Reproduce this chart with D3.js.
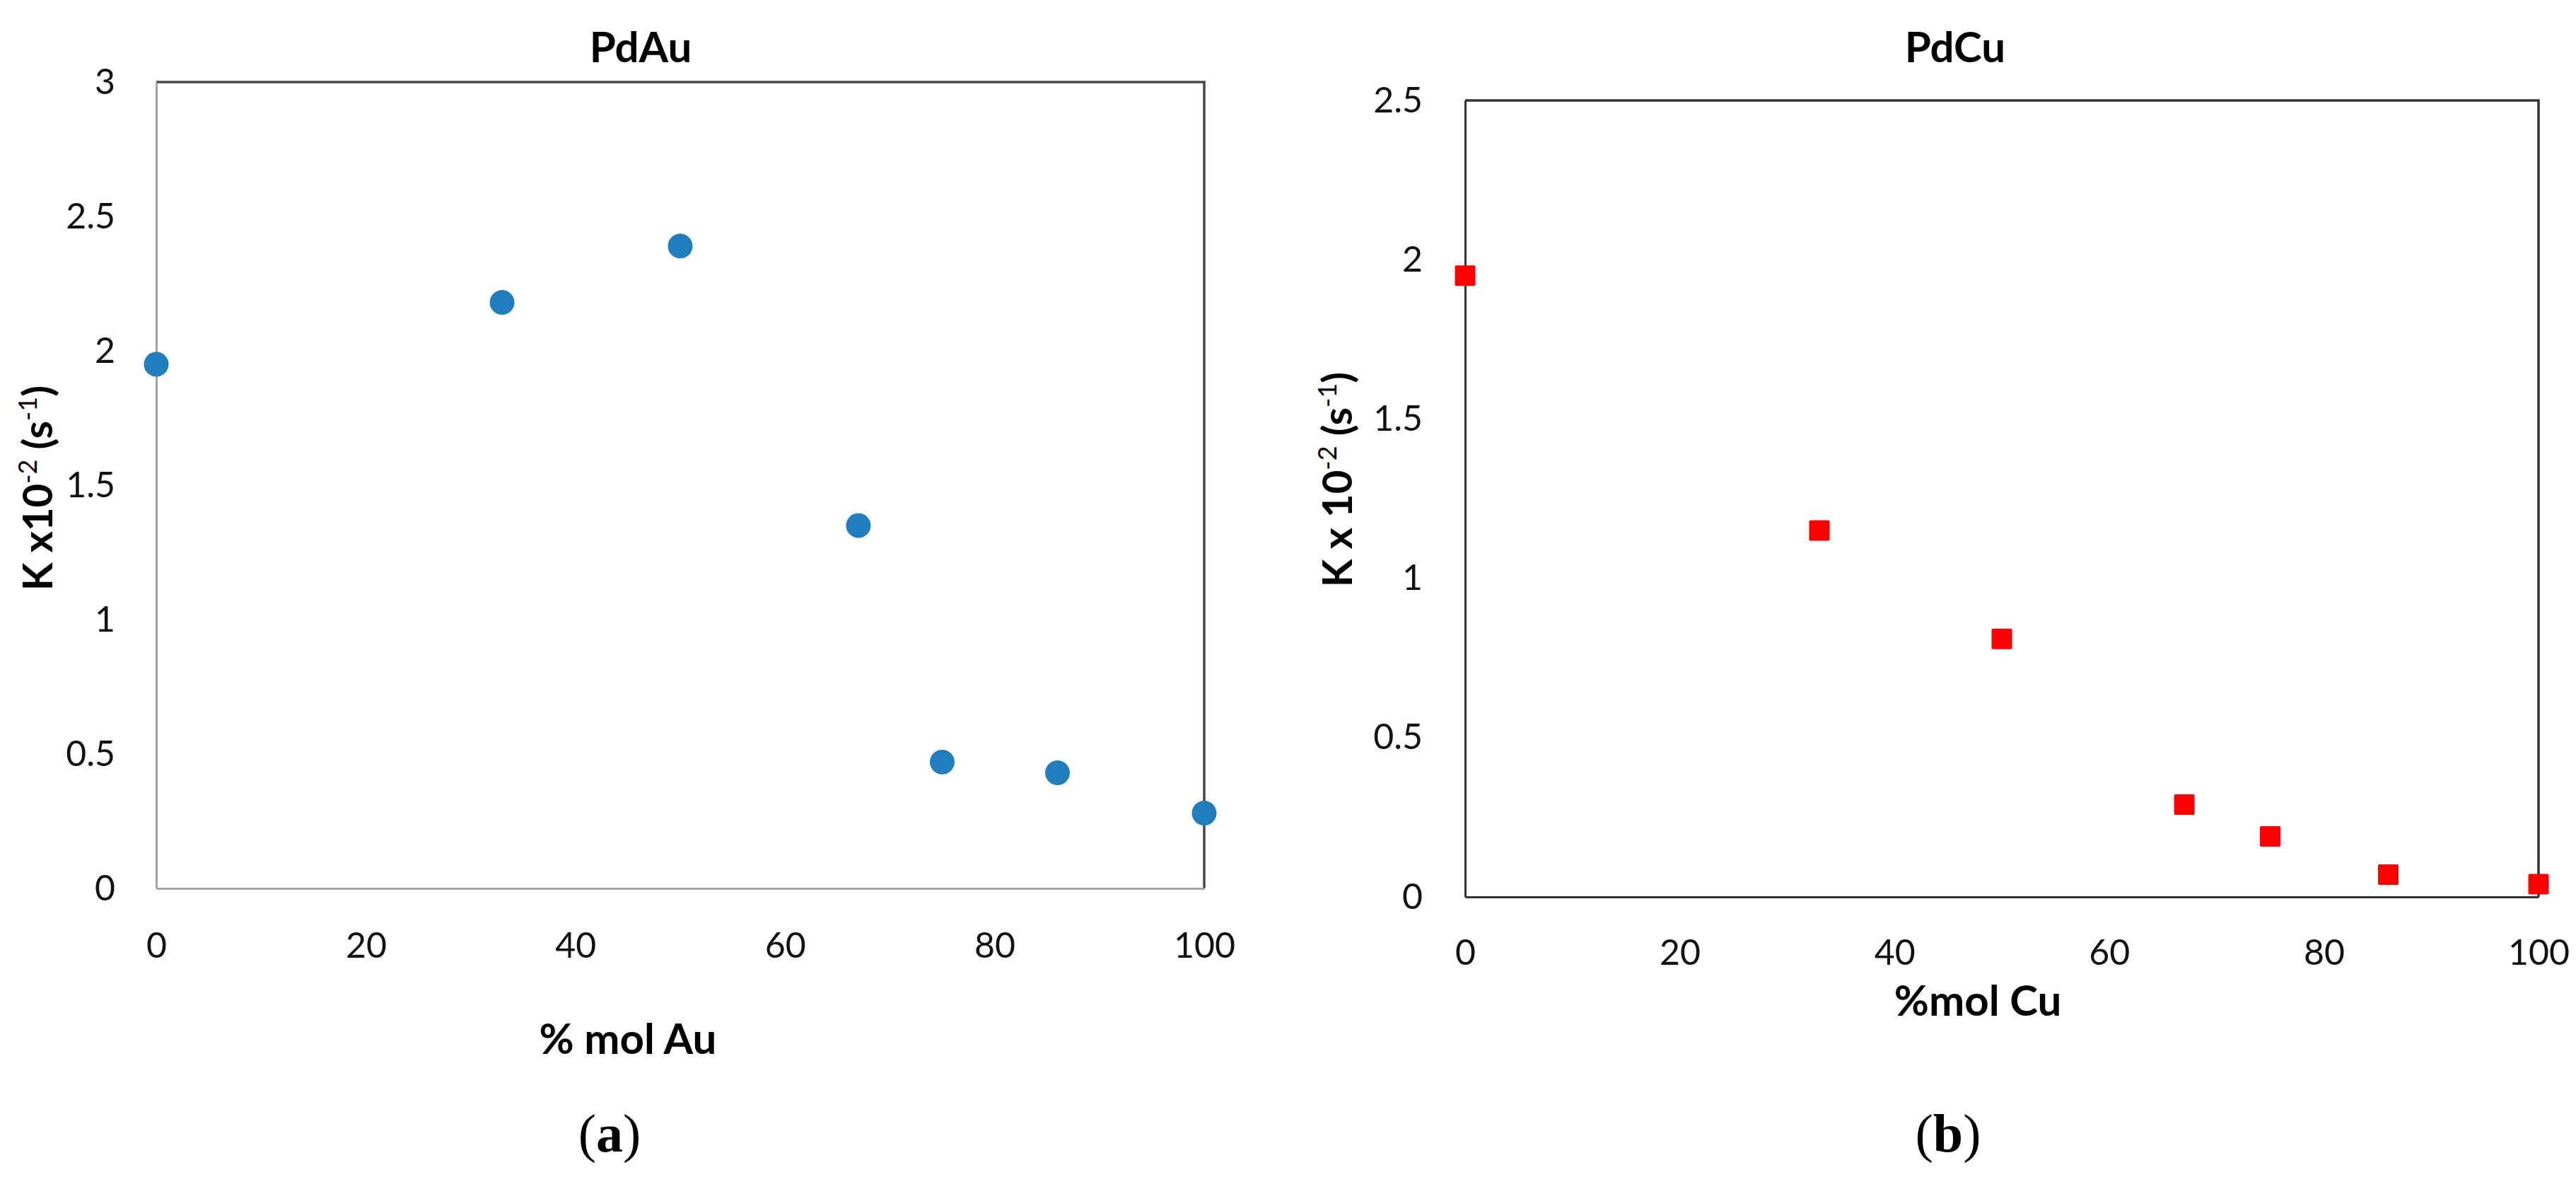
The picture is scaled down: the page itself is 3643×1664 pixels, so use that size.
<!DOCTYPE html>
<html>
<head>
<meta charset="utf-8">
<script src="https://cdn.jsdelivr.net/npm/d3@7"></script>
<style>
  html, body { margin: 0; padding: 0; background: #fff; }
  svg { display: block; }
  .tick text { font-family: Lato, "Open Sans", sans-serif; fill: #111; }
</style>
</head>
<body>
<svg id="chart" width="3643" height="1664"></svg>
<script>
// ---------- data ----------
const auPercent = [0, 33, 50, 67, 75, 86, 100];
const kPdAu     = [1.95, 2.18, 2.39, 1.35, 0.47, 0.43, 0.28];

const cuPercent = [0, 33, 50, 67, 75, 86, 100];
const kPdCu     = [1.95, 1.15, 0.81, 0.29, 0.19, 0.07, 0.04];

const xTicks     = [0, 20, 40, 60, 80, 100];
const yTicksAu   = [0, 0.5, 1, 1.5, 2, 2.5, 3];
const yTicksCu   = [0, 0.5, 1, 1.5, 2, 2.5];

// ---------- drawing ----------
const svg = d3.select("#chart");
const FONT = "Lato, 'Open Sans', sans-serif";

function panel(cfg) {
  const x = d3.scaleLinear().domain([0, 100]).range([cfg.x0, cfg.x1]);
  const y = d3.scaleLinear().domain([0, cfg.yMax]).range([cfg.y0, cfg.y1]);
  const g = svg.append("g");

  // plot-area border (top / right)
  g.append("path")
    .attr("d", `M${x(0)},${y(cfg.yMax)} H${x(100)} V${y(0)}`)
    .attr("fill", "none").attr("stroke", cfg.borderColor).attr("stroke-width", 3.5);

  const fmt = d => String(d);
  const xa = g.append("g").attr("transform", `translate(0,${y(0)})`)
    .call(d3.axisBottom(x).tickValues(xTicks).tickSize(0).tickPadding(cfg.xPad).tickFormat(fmt));
  const ya = g.append("g").attr("transform", `translate(${x(0)},0)`)
    .call(d3.axisLeft(y).tickValues(cfg.yTicks).tickSize(0).tickPadding(cfg.yPad).tickFormat(fmt));
  [xa, ya].forEach(a => {
    a.select(".domain").attr("stroke", cfg.axisColor).attr("stroke-width", 3);
    a.selectAll("text").style("font-family", FONT).style("font-size", "50px").attr("fill", "#111");
  });

  // markers
  const pts = cfg.xs.map((v, i) => ({ x: v, y: cfg.ys[i] }));
  if (cfg.shape === "circle") {
    g.selectAll("circle.pt").data(pts).join("circle").attr("class", "pt")
      .attr("cx", d => x(d.x)).attr("cy", d => y(d.y)).attr("r", 17.5)
      .attr("fill", cfg.color);
  } else {
    const s = 29;
    g.selectAll("rect.pt").data(pts).join("rect").attr("class", "pt")
      .attr("x", d => x(d.x) - s / 2).attr("y", d => y(d.y) - s / 2)
      .attr("width", s).attr("height", s).attr("rx", 2)
      .attr("fill", cfg.color);
  }

  // chart title
  svg.append("text").attr("x", cfg.titleX).attr("y", 88)
    .attr("text-anchor", "middle").style("font-family", FONT)
    .style("font-size", "60px").style("font-weight", "bold").text(cfg.title);

  // x axis title
  svg.append("text").attr("x", cfg.xTitleX).attr("y", cfg.xTitleY)
    .attr("text-anchor", "middle").style("font-family", FONT)
    .style("font-size", "60px").style("font-weight", "bold").text(cfg.xTitle);

  // y axis title (rotated, with superscripts)
  const yt = svg.append("text")
    .attr("transform", `translate(${cfg.yTitleX},${cfg.yTitleY}) rotate(-90)`)
    .attr("text-anchor", "middle").style("font-family", FONT)
    .style("font-size", "58px").style("font-weight", "bold");
  cfg.yTitleParts.forEach(p => {
    const t = yt.append("tspan").text(p.t);
    if (p.sup) t.attr("baseline-shift", "super").style("font-size", "36px").style("font-weight", "normal");
  });

  // sub-caption
  const cap = svg.append("text").attr("x", cfg.capX).attr("y", 1628)
    .attr("text-anchor", "middle").style("font-family", "'Liberation Serif', 'DejaVu Serif', serif")
    .style("font-size", "76px");
  cap.append("tspan").text("(");
  cap.append("tspan").style("font-weight", "bold").text(cfg.cap);
  cap.append("tspan").text(")");
}

panel({
  x0: 221, x1: 1703, y0: 1256, y1: 116, yMax: 3, yTicks: yTicksAu,
  xs: auPercent, ys: kPdAu, shape: "circle", color: "#217DBB",
  borderColor: "#474747", axisColor: "#a3a3a3", xPad: 62, yPad: 58,
  title: "PdAu", titleX: 906,
  xTitle: "% mol Au", xTitleX: 888, xTitleY: 1490,
  yTitleX: 74, yTitleY: 690,
  yTitleParts: [{ t: "K x10" }, { t: "-2", sup: true }, { t: " (s" }, { t: "-1", sup: true }, { t: ")" }],
  cap: "a", capX: 862
});

panel({
  x0: 2072, x1: 3590, y0: 1268, y1: 142, yMax: 2.5, yTicks: yTicksCu,
  xs: cuPercent, ys: kPdCu, shape: "square", color: "#FF0000",
  borderColor: "#333333", axisColor: "#333333", xPad: 60, yPad: 60,
  title: "PdCu", titleX: 2765,
  xTitle: "%mol Cu", xTitleX: 2797, xTitleY: 1436,
  yTitleX: 1912, yTitleY: 678,
  yTitleParts: [{ t: "K x 10" }, { t: "-2", sup: true }, { t: " (s" }, { t: "-1", sup: true }, { t: ")" }],
  cap: "b", capX: 2755
});
</script>
</body>
</html>
